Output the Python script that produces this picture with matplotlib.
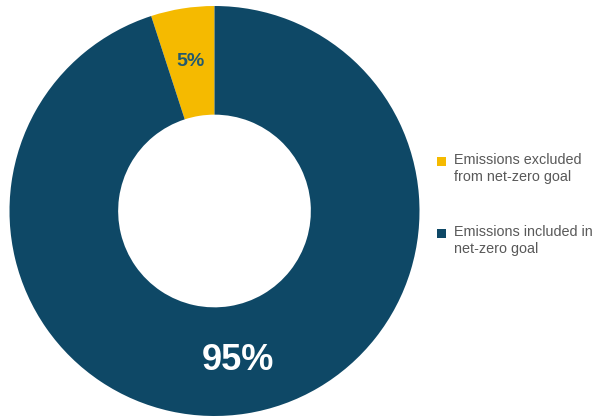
import matplotlib.pyplot as plt
from matplotlib.patches import Rectangle

# data
labels = ['Emissions excluded\nfrom net-zero goal', 'Emissions included in\nnet-zero goal']
shares = [5, 95]
colors = ['#F5BA00', '#0E4866']
pct_colors = ['#245A6E', 'white']
pct_sizes = [14, 26]

font = ['Liberation Sans Narrow', 'Liberation Sans', 'DejaVu Sans']

W, H = 597, 419
fig = plt.figure(figsize=(W / 100, H / 100), dpi=100)

# donut: centre (214.5, 211) px from top-left, outer radius 205 px
cx, cy, R = 214.5, 211, 205
ax = fig.add_axes([(cx - R) / W, (H - cy - R) / H, 2 * R / W, 2 * R / H])
wedges, _, autotexts = ax.pie(shares, colors=colors, startangle=90, counterclock=True,
                              radius=1.0, pctdistance=0.74, autopct='%d%%',
                              wedgeprops=dict(width=0.53, linewidth=0))
for t, c, s in zip(autotexts, pct_colors, pct_sizes):
    t.set_color(c)
    t.set_fontsize(s)
    t.set_fontweight('bold')
    t.set_family(font)
ax.set_xlim(-1, 1)
ax.set_ylim(-1, 1)
ax.set_aspect('equal')
ax.axis('off')

# legend drawn by hand (px from top: square centre, first text line top)
square_y = [162, 234]
text_y = [153, 225]
for lab, col, sy, ty in zip(labels, colors, square_y, text_y):
    fig.patches.append(Rectangle((437 / W, (H - sy - 4.5) / H), 9 / W, 9 / H,
                                 transform=fig.transFigure, color=col, linewidth=0))
    fig.text(454 / W, (H - ty) / H, lab, fontsize=10.4, color='#595959',
             family=font, va='top', ha='left', linespacing=1.3,
             transform=fig.transFigure)

fig.savefig('out.png', dpi=100)
